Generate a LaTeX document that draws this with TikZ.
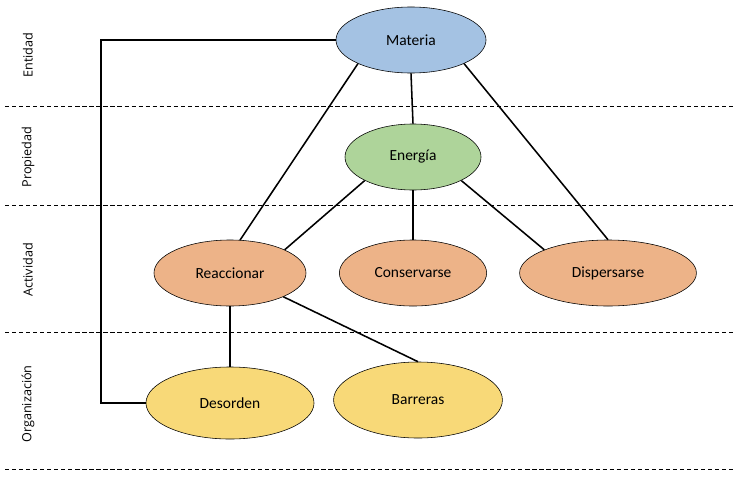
\documentclass[tikz,border=0pt]{standalone}
\usepackage{fontspec}
\setmainfont{Carlito}
\newfontfamily\sidefont{Open Sans}
\usetikzlibrary{shapes.geometric}
\definecolor{materiablue}{HTML}{A4C2E3}
\definecolor{energiagreen}{HTML}{AED49A}
\definecolor{actividadorange}{HTML}{EDB388}
\definecolor{orgyellow}{HTML}{F8D978}
\begin{document}
\begin{tikzpicture}[x=0.025cm,y=-0.025cm,
  concept/.style={ellipse,draw=black,thin,inner sep=0pt,font=\fontsize{11}{13}\selectfont},
  link/.style={line width=1.1pt},
  level/.style={dashed,dash pattern=on 3pt off 2pt,line width=0.5pt},
  side/.style={rotate=90,font=\sidefont\fontsize{9}{11}\selectfont}]
 \useasboundingbox (0,0) rectangle (736,480);
 \draw[level](5,106)--(736,106);
 \draw[level](5,205)--(736,205);
 \draw[level](5,332)--(736,332);
 \draw[level](5,469)--(736,469);
 \node[side] (entidad) at (28,55) {Entidad};
 \node[side] (propiedad) at (28,157) {Propiedad};
 \node[side] (actividad) at (28,270) {Actividad};
 \node[side] (organizacion) at (28,404) {Organización};
 \node[concept,fill=materiablue,minimum width=3.75cm,minimum height=1.65cm] (materia) at (411,40) {Materia};
 \node[concept,fill=energiagreen,minimum width=3.4cm,minimum height=1.65cm] (energia) at (413,157) {Energía};
 \node[concept,fill=actividadorange,minimum width=3.8cm,minimum height=1.65cm] (reaccionar) at (230,273) {Reaccionar};
 \node[concept,fill=actividadorange,minimum width=3.68cm,minimum height=1.65cm] (conservarse) at (413,273) {Conservarse};
 \node[concept,fill=actividadorange,minimum width=4.42cm,minimum height=1.65cm] (dispersarse) at (608,273) {Dispersarse};
 \node[concept,fill=orgyellow,minimum width=4.2cm,minimum height=1.8cm] (desorden) at (230,403) {Desorden};
 \node[concept,fill=orgyellow,minimum width=4.22cm,minimum height=1.9cm] (barreras) at (418,400) {Barreras};
 \coordinate (corner) at (101,40);
 \draw[link](materia.west)--(corner)|-(desorden.west);
 \draw[link](materia.204)--(reaccionar.73);
 \draw[link](materia.south)--(energia.north);
 \draw[link](materia.336)--(dispersarse.north);
 \draw[link](energia.206)--(reaccionar.23);
 \draw[link](energia.south)--(conservarse.north);
 \draw[link](energia.334)--(dispersarse.160);
 \draw[link](reaccionar.south)--(desorden.north);
 \draw[link](reaccionar.336)--(barreras.north);
\end{tikzpicture}
\end{document}
